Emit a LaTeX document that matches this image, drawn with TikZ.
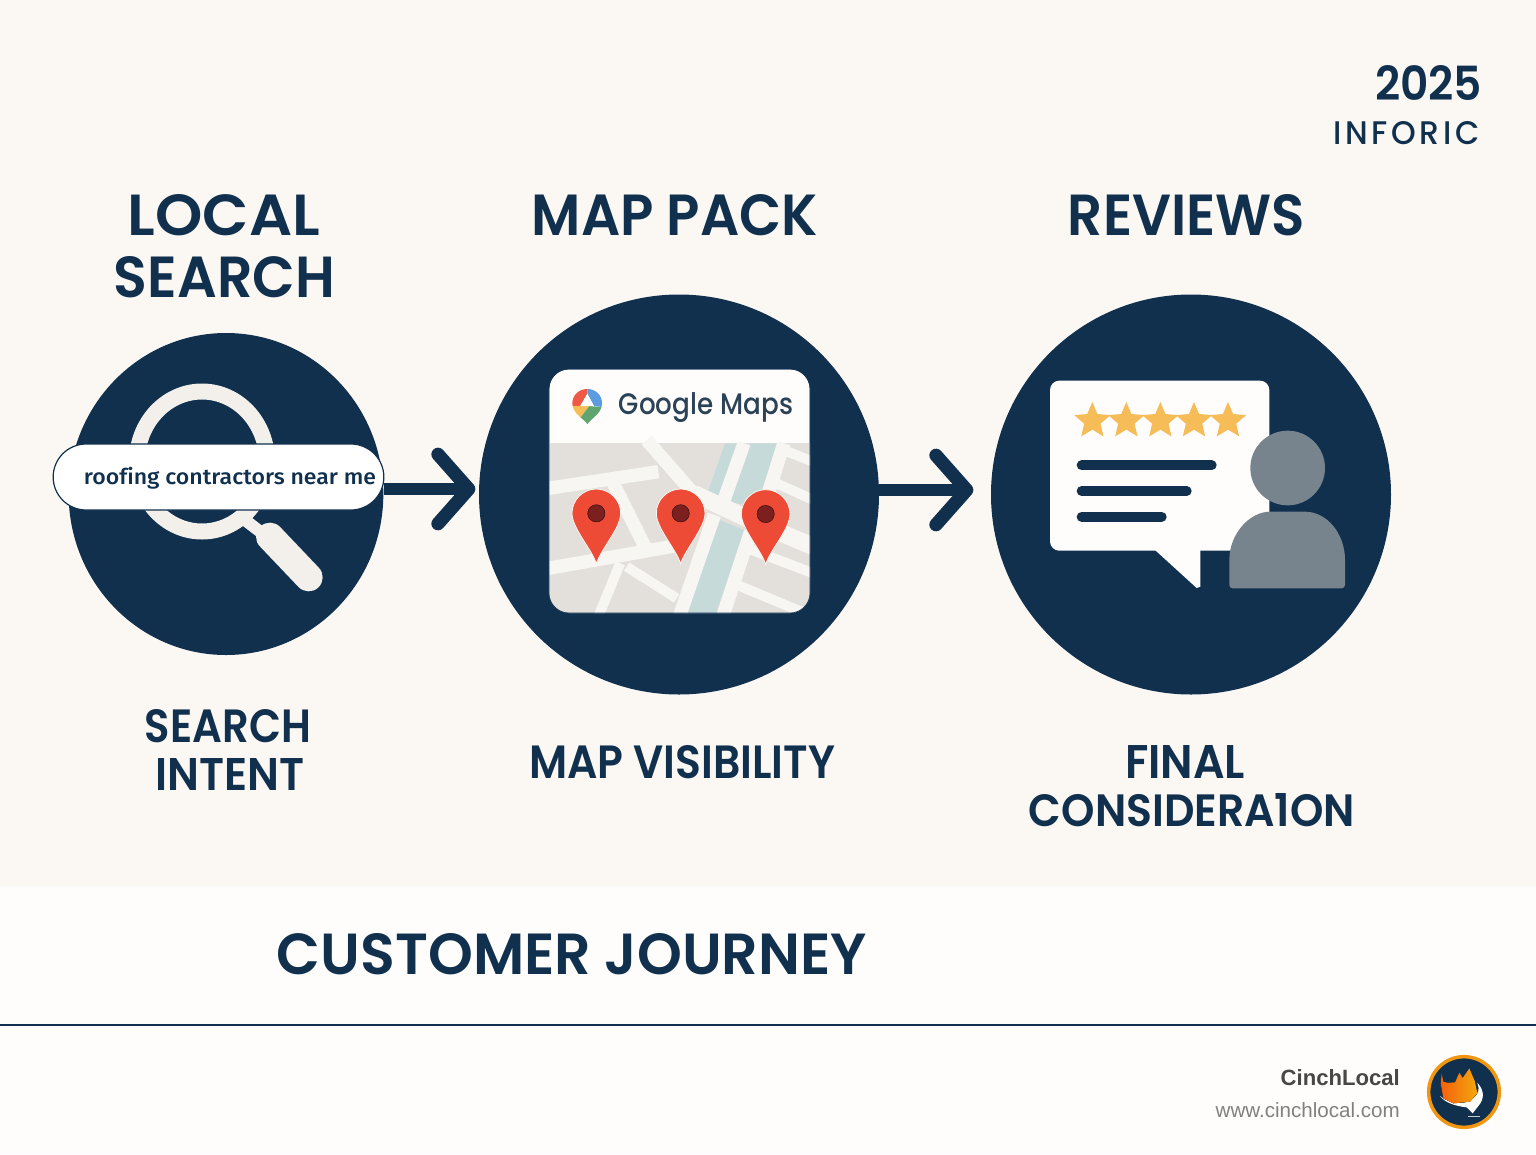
\documentclass[tikz,border=0pt]{standalone}
\usepackage{fontspec}
\usepackage{graphicx}
\usetikzlibrary{arrows.meta,shapes.geometric,shapes.misc}
\newfontfamily\hdfont{Poppins SemiBold}
\newfontfamily\spacedfont{Poppins Medium}[LetterSpace=12]
\newfontfamily\gmfont{Poppins Medium}
\newfontfamily\qfont{Fira Sans Medium}[Ligatures=NoCommon]
\setmainfont{Liberation Sans}
\definecolor{navy}{HTML}{10304E}
\definecolor{paper}{HTML}{FBF8F4}
\definecolor{whitish}{HTML}{FEFDFC}
\definecolor{ringc}{HTML}{F3F0EB}
\definecolor{block}{HTML}{E3E0DB}
\definecolor{roadc}{HTML}{F8F6F2}
\definecolor{river}{HTML}{C6DBD9}
\definecolor{pinred}{HTML}{EE4B36}
\definecolor{pindot}{HTML}{7B1F1F}
\definecolor{starc}{HTML}{F5BC58}
\definecolor{person}{HTML}{78848D}
\definecolor{gmtext}{HTML}{2B4257}
\definecolor{lgorange}{HTML}{F08A12}
\definecolor{gred}{HTML}{EE5A45}
\definecolor{gblue}{HTML}{5B9BE0}
\definecolor{gyellow}{HTML}{F6BC55}
\definecolor{ggreen}{HTML}{5FA56F}
\newcommand{\fitcap}[3]{\resizebox{\dimexpr#1pt*3/4\relax}{\dimexpr#2pt*3/4\relax}{\hdfont #3}}
\newcommand{\mappin}[2]{\begin{scope}[shift={(#1)}]
\path[fill=pinred,draw=roadc,line width=0.6pt] (0,152) .. controls (-10,112) and (-73,45) .. (-73,0) .. controls (-73,-40) and (-40,-73) .. (0,-73) .. controls (40,-73) and (73,-40) .. (73,0) .. controls (73,45) and (10,112) .. cycle;
\node[pindotn] (#2) at (0,0) {};
\end{scope}}
\tikzset{
 x=0.75pt,y=-0.75pt,
 headtext/.style={inner sep=0pt,text=navy},
 bigdisc/.style={circle,fill=navy,minimum size=300pt,inner sep=0pt},
 flowline/.style={draw=navy,line width=8.5pt,shorten >=3.5pt,
   -{Straight Barb[length=23pt,width=52pt,line width=10pt,round]}},
 road/.style={draw=roadc,line width=10pt},
 wideroad/.style={draw=roadc,line width=13pt},
 thinroad/.style={draw=roadc,line width=7.5pt},
 pindotn/.style={circle,fill=pindot,draw=black!70!pindot,line width=0.3pt,minimum size=13pt,inner sep=0pt},
 reviewline/.style={draw=navy,line width=7.5pt,line cap=round},
}
\begin{document}
\begin{tikzpicture}
\useasboundingbox (0,0) rectangle (1536,1154);
\fill[whitish] (0,0) rectangle (1536,1154);
\fill[paper] (0,0) rectangle (1536,886);
\draw[navy,line width=1.7pt] (0,1025) -- (1536,1025);

% discs
\node[ellipse,fill=navy,minimum width=236pt,minimum height=241.5pt,inner sep=0pt] (disc1) at (226,494) {};
\node[bigdisc] (disc2) at (679,494.5) {};
\node[bigdisc] (disc3) at (1191,494.5) {};

% magnifier
\node[ellipse,draw=ringc,line width=12pt,minimum width=97.5pt,minimum height=105pt,inner sep=0pt] (ring) at (202,461.5) {};
\begin{scope}[shift={(40,320)},x=0.25pt,y=-0.25pt]
\draw[ringc,line width=9pt] (615,600) -- (680,650);
\draw[ringc,line width=21pt,line cap=round] (690,650) -- (806,772);
\end{scope}

% search pill
\node[rounded rectangle,fill=white,draw=navy,line width=0.9pt,minimum width=248pt,minimum height=49.5pt,inner sep=0pt] (pill) at (218.5,477) {};
\node[inner sep=0pt,text=navy] (query) at (230,478.5) {\resizebox*{219pt}{16.5pt}{\qfont roofing contractors near me}};

% Map card
\node[rectangle,rounded corners=15pt,fill=whitish,draw=navy,line width=0.5pt,minimum width=196pt,minimum height=183pt,inner sep=0pt] (card) at (679.5,491) {};
\begin{scope}
\clip[rounded corners=15pt] (549,369) rectangle (810,613);
\begin{scope}[shift={(530,350)},x=0.25pt,y=-0.25pt]
\fill[block] (55,278) rectangle (845,800);
\fill[river] (585,280) -- (625,280) -- (565,445) -- (532,430) -- cycle;
\fill[river] (660,280) -- (740,280) -- (682,472) -- (595,455) -- cycle;
\fill[river] (570,510) -- (642,540) -- (555,800) -- (465,800) -- cycle;
\draw[road] (55,415) -- (385,365);
\draw[road] (350,270) -- (490,430);
\draw[wideroad] (490,430) -- (640,500) -- (850,590);
\draw[road] (55,655) -- (450,585);
\draw[road] (250,400) -- (345,590);
\draw[thinroad] (270,640) -- (205,800);
\draw[thinroad] (290,650) -- (440,745);
\draw[thinroad] (610,700) -- (850,800);
\draw[thinroad] (640,590) -- (850,670);
\draw[thinroad] (740,400) -- (850,450);
\draw[thinroad] (760,300) -- (850,335);
\draw[road] (642,280) -- (582,450);
\draw[road] (762,280) -- (702,470);
\draw[road] (662,545) -- (578,800);
\draw[road] (553,495) -- (448,800);
\end{scope}
\end{scope}
\draw[navy,line width=0.5pt,rounded corners=15pt] (549,369) rectangle (810,613);
\begin{scope}[shift={(530,350)},x=0.25pt,y=-0.25pt]
\mappin{199,490}{pina}
\mappin{452,490}{pinb}
\mappin{707,492}{pinc}
% google pin logo
\begin{scope}
\clip (172,222) .. controls (160,205) and (127,190) .. (127,160) .. controls (127,135) and (147,117) .. (172,117) .. controls (197,117) and (216,135) .. (216,160) .. controls (216,190) and (184,205) .. cycle;
\fill[gred] (120,110) -- (172,110) -- (172,130) -- (150,168) -- (120,168) -- cycle;
\fill[gblue] (172,110) -- (225,110) -- (225,172) -- (192,168) -- (172,130) -- cycle;
\fill[gyellow] (120,168) -- (178,168) -- (150,205) -- (120,205) -- cycle;
\fill[ggreen] (178,168) -- (225,172) -- (225,230) -- (120,230) -- (150,205) -- cycle;
\fill[white] (172,132) -- (192,168) -- (153,168) -- cycle;
\end{scope}
\end{scope}
\node[inner sep=0pt,text=gmtext] (gmaps) at (706,408) {\resizebox*{130.5pt}{22.5pt}{\gmfont Google Maps}};

% Review bubble
\begin{scope}[shift={(1030,360)},x=0.25pt,y=-0.25pt]
\fill[whitish,rounded corners=7pt] (718,572) -- (60,572) -- (60,62) -- (718,62) -- cycle;
\fill[whitish] (375,570) -- (500,684) -- (511,680) -- (511,570) -- cycle;
\foreach \cx in {187,289,391,492,594}
  \node[star,star points=5,star point ratio=2.2,fill=starc,minimum size=28.5pt,inner sep=0pt] at (\cx,183) {};
\draw[reviewline] (155,316) -- (545,316);
\draw[reviewline] (155,393) -- (470,393);
\draw[reviewline] (155,470) -- (395,470);
\node[circle,fill=person,minimum size=56pt,inner sep=0pt] (head) at (773,324) {};
\fill[person,rounded corners=2.5pt] (598,685) -- (598,610) .. controls (598,520) and (660,455) .. (730,455) -- (815,455) .. controls (890,455) and (945,520) .. (945,610) -- (945,685) -- cycle;
\end{scope}

% connectors
\coordinate (a1) at (384,489);
\coordinate (a2) at (480,489);
\coordinate (b1) at (878,490);
\coordinate (b2) at (978,490);
\draw[flowline] (pill.east |- a1) -- (a2);
\draw[flowline] (disc2.east |- b1) -- (b2);

% headings
\node[headtext] (t1a) at (224,215.5) {\fitcap{192}{41}{LOCAL}};
\node[headtext] (t1b) at (224.5,277.5) {\fitcap{221}{41}{SEARCH}};
\node[headtext] (t2) at (675,215.5) {\fitcap{286}{41}{MAP PACK}};
\node[headtext] (t3) at (1186.5,215.5) {\fitcap{237}{41}{REVIEWS}};
\node[headtext] (s1a) at (228,726) {\fitcap{166}{33}{SEARCH}};
\node[headtext] (s1b) at (230,774.5) {\fitcap{149}{32}{INTENT}};
\node[headtext] (s2) at (682,762) {\fitcap{306}{33}{MAP VISIBILITY}};
\node[headtext] (s3a) at (1185,762) {\fitcap{120}{33}{FINAL}};
\node[headtext] (s3b) at (1192,810.5) {\fitcap{326}{33}{CONSIDERA1ON}};
\node[headtext] (title) at (572,954.5) {\fitcap{590}{41}{CUSTOMER JOURNEY}};
\node[headtext] (year) at (1428.5,82.5) {\fitcap{107}{35}{2025}};
\node[headtext] (inforic) at (1406.5,133) {\resizebox{110.25pt}{17.25pt}{\spacedfont INFORIC}};

% branding
\node[inner sep=0pt,anchor=east,text=black!72] (brand) at (1400,1078) {\resizebox{89.25pt}{!}{\bfseries CinchLocal}};
\node[inner sep=0pt,anchor=east,text=black!50] (url) at (1400,1110) {\resizebox{138pt}{!}{www.cinchlocal.com}};

% logo
\node[circle,fill=navy,draw=lgorange!90!yellow,line width=2.6pt,minimum size=53pt,inner sep=0pt] (logo) at (1464,1092) {};
\begin{scope}[shift={(1420,1050)},x=0.25pt,y=-0.25pt]
\fill[white] (60,138) .. controls (90,165) and (150,170) .. (172,130) .. controls (178,118) and (176,108) .. (172,98) .. controls (192,120) and (195,145) .. (175,168) -- (158,190) -- (140,172) .. controls (105,168) and (75,158) .. cycle;
\fill[left color=lgorange!70!red,right color=lgorange!75!yellow] (65,70) -- (70,95) -- (82,98) -- (105,97) -- (118,68) -- (128,84) -- (148,55) -- (165,95) -- (172,130) -- (150,155) -- (100,160) -- (70,145) -- (62,100) -- cycle;
\fill[white!75!navy] (145,197) rectangle (180,201);
\end{scope}
\end{tikzpicture}
\end{document}
